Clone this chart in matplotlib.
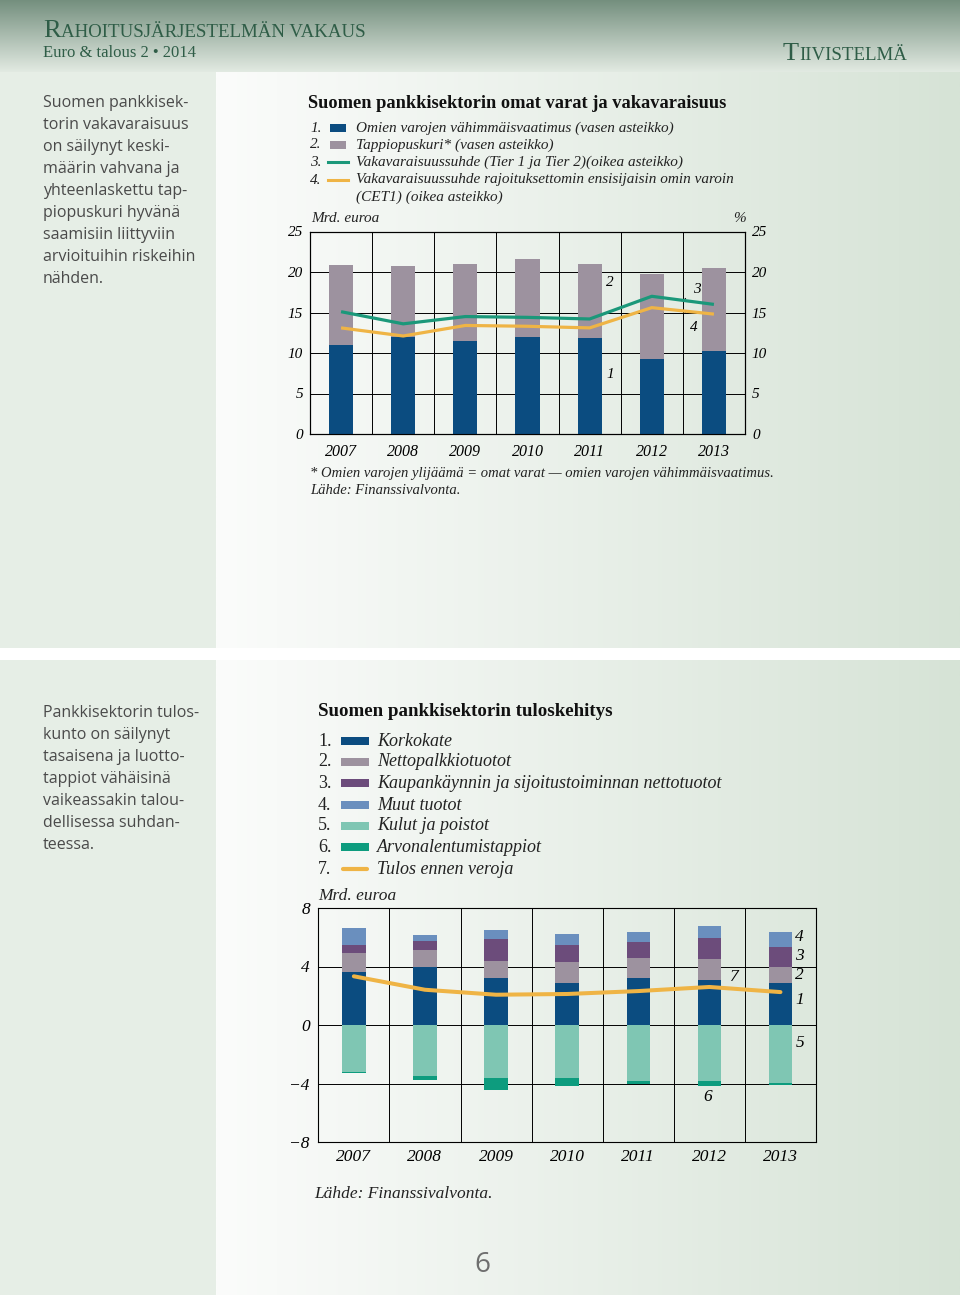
import matplotlib
matplotlib.use('Agg')
import matplotlib.pyplot as plt
import numpy as np
from matplotlib.colors import to_rgb
from matplotlib.patches import Rectangle
from matplotlib.lines import Line2D

# ---------------- data ----------------
years = ['2007', '2008', '2009', '2010', '2011', '2012', '2013']

# Chart 1: omat varat ja vakavaraisuus (Mrd. euroa / %)
min_req = [11.0, 12.0, 11.5, 12.0, 11.8, 9.2, 10.2]
loss_buffer = [9.9, 8.7, 9.5, 9.6, 9.2, 10.5, 10.3]
cap_ratio = [15.1, 13.6, 14.5, 14.4, 14.2, 17.0, 16.0]
cet1_ratio = [13.1, 12.1, 13.4, 13.3, 13.1, 15.6, 14.8]
chart1_ticks = [0, 5, 10, 15, 20, 25]

# Chart 2: tuloskehitys (Mrd. euroa)
net_interest = [3.6, 4.0, 3.2, 2.9, 3.2, 3.1, 2.9]
net_fee = [1.3, 1.1, 1.2, 1.4, 1.4, 1.4, 1.1]
trading = [0.6, 0.65, 1.5, 1.15, 1.05, 1.45, 1.35]
other_income = [1.1, 0.4, 0.6, 0.8, 0.7, 0.85, 1.0]
expenses = [-3.2, -3.5, -3.6, -3.65, -3.8, -3.85, -3.95]
impairments = [-0.08, -0.28, -0.85, -0.5, -0.25, -0.3, -0.12]
profit = [3.33, 2.41, 2.07, 2.12, 2.32, 2.6, 2.25]
chart2_ticks = [-8, -4, 0, 4, 8]
chart2_ticklabels = ['\u22128', '\u22124', '0', '4', '8']

legend1 = ['Omien varojen vähimmäisvaatimus (vasen asteikko)',
           'Tappiopuskuri* (vasen asteikko)',
           'Vakavaraisuussuhde (Tier 1 ja Tier 2)(oikea asteikko)',
           'Vakavaraisuussuhde rajoituksettomin ensisijaisin omin varoin']
legend2 = ['Korkokate', 'Nettopalkkiotuotot',
           'Kaupankäynnin ja sijoitustoiminnan nettotuotot', 'Muut tuotot',
           'Kulut ja poistot', 'Arvonalentumistappiot', 'Tulos ennen veroja']

side1 = ['Suomen pankkisek-', 'torin vakavaraisuus', 'on säilynyt keski-',
         'määrin vahvana ja', 'yhteenlaskettu tap-', 'piopuskuri hyvänä',
         'saamisiin liittyviin', 'arvioituihin riskeihin', 'nähden.']
side2 = ['Pankkisektorin tulos-', 'kunto on säilynyt', 'tasaisena ja luotto-',
         'tappiot vähäisinä', 'vaikeassakin talou-', 'dellisessa suhdan-',
         'teessa.']

# ---------------- style ----------------
C_BLUE = '#0b4c80'
C_GREY = '#9d929f'
C_GREEN = '#1b987a'
C_ORANGE = '#efb445'
C_PURPLE = '#6c4c7b'
C_LBLUE = '#6a8fbe'
C_LTEAL = '#7fc6b3'
C_TEAL = '#0d9c7e'
HEAD = '#2f5d47'
SERIF = 'Liberation Serif'
SANS = 'Open Sans'

W, H = 960, 1295
fig = plt.figure(figsize=(W / 100, H / 100), dpi=100)

bg = fig.add_axes([0, 0, 1, 1], zorder=-10)
bg.set_xlim(0, W)
bg.set_ylim(H, 0)
bg.axis('off')


def grad(c1, c2, n=256, horizontal=True):
    a = np.array(to_rgb(c1)); b = np.array(to_rgb(c2))
    t = np.linspace(0, 1, n)[:, None]
    g = a * (1 - t) + b * t
    if horizontal:
        return g[None, :, :]
    return g[:, None, :]


bg.imshow(grad('#748f7e', '#e2eae2', horizontal=False), extent=[0, W, 72, 0], aspect='auto', zorder=0)
bg.add_patch(Rectangle((0, 72), 216, H - 72, color='#e6eee6', zorder=1, lw=0))
bg.imshow(grad('#fbfcfb', '#d6e3d6'), extent=[216, W, 648, 72], aspect='auto', zorder=1)
bg.imshow(grad('#fbfcfb', '#d6e3d6'), extent=[216, W, H, 660], aspect='auto', zorder=1)
bg.add_patch(Rectangle((0, 648), W, 12, color='white', zorder=2, lw=0))
bg.set_xlim(0, W)
bg.set_ylim(H, 0)


def T(x, y, s, **kw):
    kw.setdefault('va', 'center')
    kw.setdefault('ha', 'left')
    return bg.text(x, y, s, **kw)


renderer = fig.canvas.get_renderer()

# header small caps
t1 = T(43, 37, 'R', family=SERIF, fontsize=19, color=HEAD, va='baseline')
ext = t1.get_window_extent(renderer)
T(ext.x1 + 0.5, 37, 'AHOITUSJÄRJESTELMÄN VAKAUS', family=SERIF, fontsize=13.6, color=HEAD, va='baseline')
T(43, 53, 'Euro & talous 2 • 2014', family=SERIF, fontsize=12, color=HEAD)
t2 = T(907, 60, 'IIVISTELMÄ', family=SERIF, fontsize=13.6, color=HEAD, va='baseline', ha='right')
ext = t2.get_window_extent(renderer)
T(ext.x0 - 0.5, 60, 'T', family=SERIF, fontsize=19, color=HEAD, va='baseline', ha='right')

# side texts
for i, s in enumerate(side1):
    T(43, 103 + 22 * i, s, family=SANS, fontsize=11.5, color='#4a4a4a')
for i, s in enumerate(side2):
    T(43, 713 + 22 * i, s, family=SANS, fontsize=11.5, color='#4a4a4a')

# ---------------- chart 1 ----------------
T(308, 104, 'Suomen pankkisektorin omat varat ja vakavaraisuus', family=SERIF, fontsize=13.2, weight='bold', color='#111111')
ly = [128, 145, 162, 180]
for i, s in enumerate(legend1):
    T(310, ly[i], f'{i + 1}.', family=SERIF, fontsize=11, style='italic', color='#222222')
    T(356, ly[i], s, family=SERIF, fontsize=11, style='italic', color='#222222')
bg.add_patch(Rectangle((330, ly[0] - 4), 16, 8, color=C_BLUE, lw=0, zorder=3))
bg.add_patch(Rectangle((330, ly[1] - 4), 16, 8, color=C_GREY, lw=0, zorder=3))
bg.add_line(Line2D([328, 348], [ly[2], ly[2]], color=C_GREEN, lw=2.2, zorder=3))
bg.add_line(Line2D([328, 348], [ly[3], ly[3]], color=C_ORANGE, lw=2.2, zorder=3))
T(356, 197, '(CET1) (oikea asteikko)', family=SERIF, fontsize=11, style='italic', color='#222222')
T(311, 218, 'Mrd. euroa', family=SERIF, fontsize=11, style='italic', color='#222222')
T(740, 219, '%', family=SERIF, fontsize=11, style='italic', color='#222222', ha='center')

x = np.arange(len(years))
ax1 = fig.add_axes([310 / W, 1 - 434 / H, 435 / W, 202.5 / H])
ax1.set_facecolor('none')
ax1.bar(x, min_req, width=0.39, color=C_BLUE, zorder=3)
ax1.bar(x, loss_buffer, bottom=min_req, width=0.39, color=C_GREY, zorder=3)
ax1.set_xlim(-0.5, 6.5)
ax1.set_ylim(0, 25)
ax1.set_yticks(chart1_ticks)
ax1.set_xticks(x)
ax1.set_xticklabels(years)
ax1.set_xticks(np.arange(0.5, 6, 1), minor=True)
ax1.grid(axis='y', which='major', color='black', lw=0.7)
ax1.grid(axis='x', which='minor', color='black', lw=0.7)
ax1.tick_params(which='both', length=0)
ax1.tick_params(axis='y', pad=5)
ax1.tick_params(axis='x', pad=7.5)
for sp in ax1.spines.values():
    sp.set_linewidth(0.8)
ax1r = ax1.twinx()
ax1r.set_ylim(0, 25)
ax1r.set_yticks(chart1_ticks)
ax1r.tick_params(length=0, pad=5)
ax1r.plot(x, cap_ratio, color=C_GREEN, lw=2.3, zorder=5, solid_capstyle='butt')
ax1r.plot(x, cet1_ratio, color=C_ORANGE, lw=2.3, zorder=5, solid_capstyle='butt')
for a in (ax1, ax1r):
    for lab in a.get_yticklabels():
        lab.set_fontfamily(SERIF)
        lab.set_fontstyle('italic')
        lab.set_fontsize(11)
for lab in ax1.get_xticklabels():
    lab.set_fontfamily(SERIF)
    lab.set_fontstyle('italic')
    lab.set_fontsize(11.5)
ax1r.text(4.33, 7.3, '1', family=SERIF, style='italic', fontsize=11, ha='center', va='center')
ax1r.text(4.33, 18.7, '2', family=SERIF, style='italic', fontsize=11, ha='center', va='center')
ax1r.annotate('3', xy=(5.5, 16.45), xytext=(5.72, 17.9), family=SERIF, style='italic', fontsize=11,
              ha='center', va='center', arrowprops=dict(arrowstyle='-', lw=0.6, color='black', shrinkA=4, shrinkB=0))
ax1r.annotate('4', xy=(5.53, 15.1), xytext=(5.68, 13.1), family=SERIF, style='italic', fontsize=11,
              ha='center', va='center', arrowprops=dict(arrowstyle='-', lw=0.6, color='black', shrinkA=5, shrinkB=0))

T(310, 473, '* Omien varojen ylijäämä = omat varat \u2014 omien varojen vähimmäisvaatimus.', family=SERIF,
  fontsize=10.5, style='italic', color='#222222')
T(310, 490, 'Lähde: Finanssivalvonta.', family=SERIF, fontsize=10.5, style='italic', color='#222222')

# ---------------- chart 2 ----------------
T(318, 712, 'Suomen pankkisektorin tuloskehitys', family=SERIF, fontsize=13.6, weight='bold', color='#111111')
ly2 = [741, 762, 783, 805, 826, 847, 869]
sw_cols = [C_BLUE, C_GREY, C_PURPLE, C_LBLUE, C_LTEAL, C_TEAL]
for i, s in enumerate(legend2):
    T(318, ly2[i], f'{i + 1}.', family=SERIF, fontsize=13, color='#222222')
    T(377, ly2[i], s, family=SERIF, fontsize=13, style='italic', color='#222222')
    if i < 6:
        bg.add_patch(Rectangle((341, ly2[i] - 4), 28, 8, color=sw_cols[i], lw=0, zorder=3))
    else:
        bg.add_line(Line2D([343, 367], [ly2[i], ly2[i]], color=C_ORANGE, lw=3, solid_capstyle='round', zorder=3))
T(318, 896, 'Mrd. euroa', family=SERIF, fontsize=12.5, style='italic', color='#222222')

ax2 = fig.add_axes([318.3 / W, 1 - 1142 / H, 497.7 / W, 234 / H])
ax2.set_facecolor('none')
bw = 0.33
b = np.zeros(len(years))
for vals, col in [(net_interest, C_BLUE), (net_fee, C_GREY), (trading, C_PURPLE), (other_income, C_LBLUE)]:
    ax2.bar(x, vals, bottom=b, width=bw, color=col, zorder=3)
    b = b + np.array(vals)
ax2.bar(x, expenses, width=bw, color=C_LTEAL, zorder=3)
ax2.bar(x, impairments, bottom=expenses, width=bw, color=C_TEAL, zorder=3)
ax2.plot(x, profit, color=C_ORANGE, lw=2.9, zorder=5, solid_capstyle='round', solid_joinstyle='round')
ax2.set_xlim(-0.5, 6.5)
ax2.set_ylim(-8, 8)
ax2.set_yticks(chart2_ticks)
ax2.set_yticklabels(chart2_ticklabels)
ax2.set_xticks(x)
ax2.set_xticklabels(years)
ax2.set_xticks(np.arange(0.5, 6, 1), minor=True)
ax2.grid(axis='y', which='major', color='black', lw=0.7)
ax2.grid(axis='x', which='minor', color='black', lw=0.7)
ax2.tick_params(which='both', length=0)
ax2.tick_params(axis='y', pad=6)
ax2.tick_params(axis='x', pad=5)
for sp in ax2.spines.values():
    sp.set_linewidth(0.8)
for lab in ax2.get_xticklabels() + ax2.get_yticklabels():
    lab.set_fontfamily(SERIF)
    lab.set_fontstyle('italic')
    lab.set_fontsize(12.5)
for s, xx, yy in [('4', 6.27, 6.0), ('3', 6.27, 4.7), ('2', 6.27, 3.4), ('1', 6.27, 1.7),
                  ('5', 6.27, -1.25), ('6', 4.97, -4.95), ('7', 5.35, 3.26)]:
    ax2.text(xx, yy, s, family=SERIF, style='italic', fontsize=12.5, ha='center', va='center')

T(314, 1194, 'Lähde: Finanssivalvonta.', family=SERIF, fontsize=12.5, style='italic', color='#222222')
T(482, 1265, '6', family=SANS, fontsize=20, color='#6e6e6e', ha='center')

fig.savefig('out.png', dpi=100)
